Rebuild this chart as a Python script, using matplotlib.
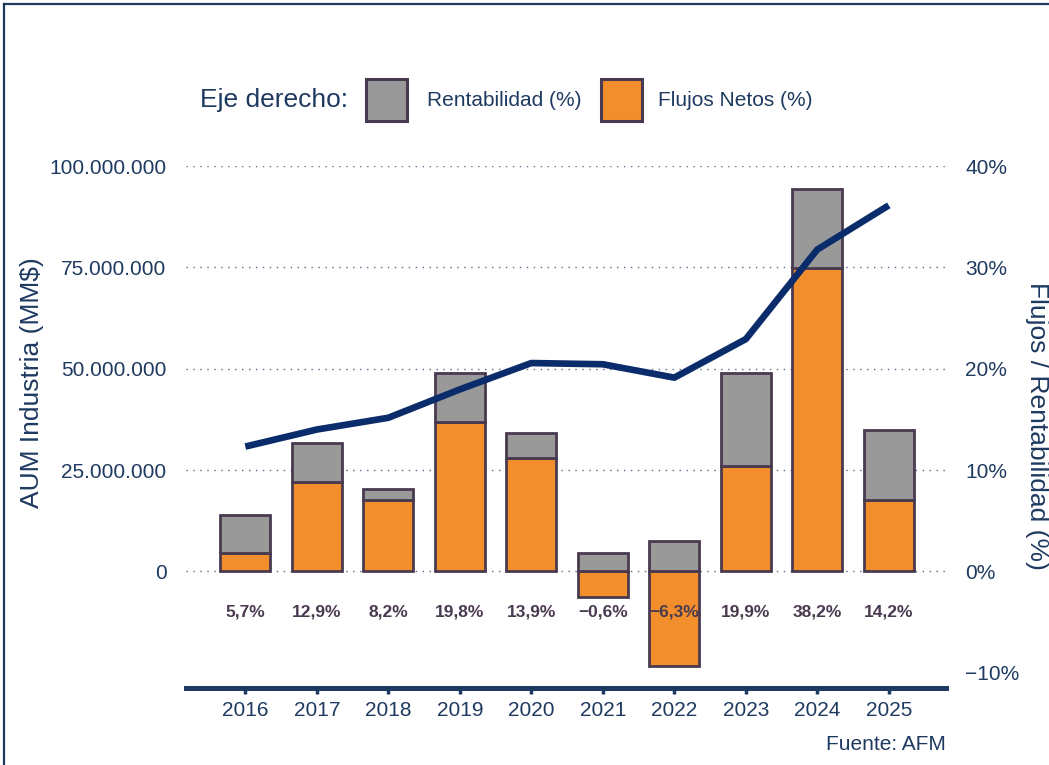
import matplotlib
matplotlib.use("Agg")
import matplotlib.pyplot as plt
from matplotlib.patches import Rectangle
from matplotlib.lines import Line2D
from matplotlib.ticker import FuncFormatter
import numpy as np

plt.rcParams['font.family'] = ['Liberation Sans', 'DejaVu Sans']

# datos
years = ['2016', '2017', '2018', '2019', '2020', '2021', '2022', '2023', '2024', '2025']
flujos = [1.8, 8.8, 7.0, 14.7, 11.2, -2.5, -9.3, 10.4, 29.9, 7.0]      # % eje derecho
rentab = [3.8, 3.9, 1.1, 4.9, 2.5, 1.8, 3.0, 9.2, 7.8, 7.0]            # % eje derecho
totales = [5.7, 12.9, 8.2, 19.8, 13.9, -0.6, -6.3, 19.9, 38.2, 14.2]
aum = [30.8e6, 35.0e6, 37.9e6, 44.9e6, 51.4e6, 51.1e6, 47.8e6, 57.3e6, 79.4e6, 90.3e6]
aum_ticks = [0, 25e6, 50e6, 75e6, 100e6]
pct_ticks = [-10, 0, 10, 20, 30, 40]

NAVY = '#1F3A60'
LINE = '#0B2C6B'
EDGE = '#4A3A50'
GRAY = '#999999'
ORANGE = '#F28E2B'

fig = plt.figure(figsize=(10.49, 7.65), dpi=100)
ax = fig.add_axes([186/1049, 1 - 688/765, (946 - 186)/1049, (688 - 166)/765])
ax_aum = ax.twinx()

x = np.arange(len(years))
pct_lo, pct_hi = -11.5, 40.0
ratio = 25e6 / 10  # 25.000.000 <-> 10%
ax.set_ylim(pct_lo, pct_hi)
ax_aum.set_ylim(pct_lo * ratio, pct_hi * ratio)
ax.set_xlim(-0.83, 9.8)

# grilla punteada (solo ticks del eje izquierdo)
for t in aum_ticks:
    ax.axhline(t / ratio, color='#5A6A8A', linestyle=(0, (1, 4)), linewidth=1.0, zorder=0)

# barras apiladas
ax.bar(x, flujos, width=0.7, color=ORANGE, edgecolor=EDGE, linewidth=2, zorder=2)
bottoms = [max(f, 0) for f in flujos]
ax.bar(x, rentab, width=0.7, bottom=bottoms, color=GRAY, edgecolor=EDGE, linewidth=2, zorder=2)

for xi, v in zip(x, totales):
    lbl = f"{abs(v):.1f}%".replace('.', ',')
    if v < 0:
        lbl = '\u2212' + lbl
    ax.text(xi, -4.0, lbl, ha='center', va='center', fontsize=12.5, fontweight='bold',
            color=EDGE, zorder=5)

# linea AUM
ax_aum.plot(x, aum, color=LINE, linewidth=4.8, solid_capstyle='butt', zorder=4)

# ejes
for a in (ax, ax_aum):
    for s in ['top', 'left', 'right']:
        a.spines[s].set_visible(False)
ax_aum.spines['bottom'].set_visible(False)
ax.spines['bottom'].set_color(NAVY)
ax.spines['bottom'].set_linewidth(3.6)

ax.set_xticks(x)
ax.set_xticklabels(years)
ax.tick_params(axis='x', colors=NAVY, labelsize=15, length=4, width=2.5, pad=5)

ax.yaxis.tick_right()
ax.set_yticks(pct_ticks)
ax.yaxis.set_major_formatter(FuncFormatter(lambda v, p: (('\u2212' if v < 0 else '') + f"{abs(v):.0f}%")))
ax.tick_params(axis='y', colors=NAVY, labelsize=15, length=0, pad=14)

ax_aum.yaxis.tick_left()
ax_aum.set_yticks(aum_ticks)
ax_aum.yaxis.set_major_formatter(FuncFormatter(lambda v, p: f"{v:,.0f}".replace(',', '.')))
ax_aum.tick_params(axis='y', colors=NAVY, labelsize=15, length=0, pad=14)

fig.text(32/1049, 1 - 383/765, 'AUM Industria (MM$)', rotation=90, ha='center', va='center',
         fontsize=19, color=NAVY)
fig.text(1037/1049, 1 - 426/765, 'Flujos / Rentabilidad (%)', rotation=270, ha='center', va='center',
         fontsize=19, color=NAVY)

# leyenda manual
ly = 1 - 100/765
fig.text(200/1049, ly, 'Eje derecho:', ha='left', va='center', fontsize=19, color=NAVY)
fig.add_artist(Rectangle((366/1049, 1 - 121/765), 41/1049, 42/765, transform=fig.transFigure,
                         facecolor=GRAY, edgecolor=EDGE, linewidth=2.2))
fig.text(427/1049, ly, 'Rentabilidad (%)', ha='left', va='center', fontsize=15, color=NAVY)
fig.add_artist(Rectangle((601/1049, 1 - 121/765), 41/1049, 42/765, transform=fig.transFigure,
                         facecolor=ORANGE, edgecolor=EDGE, linewidth=2.2))
fig.text(658/1049, ly, 'Flujos Netos (%)', ha='left', va='center', fontsize=15, color=NAVY)

fig.text(946/1049, 1 - 745/765, 'Fuente: AFM', ha='right', va='center', fontsize=15, color=NAVY)

# marco
fig.add_artist(Line2D([4/1049, 1], [1 - 4/765, 1 - 4/765], transform=fig.transFigure, color=NAVY, linewidth=1.6))
fig.add_artist(Line2D([4/1049, 4/1049], [0, 1 - 4/765], transform=fig.transFigure, color=NAVY, linewidth=1.6))

fig.savefig('out.png', dpi=100)
